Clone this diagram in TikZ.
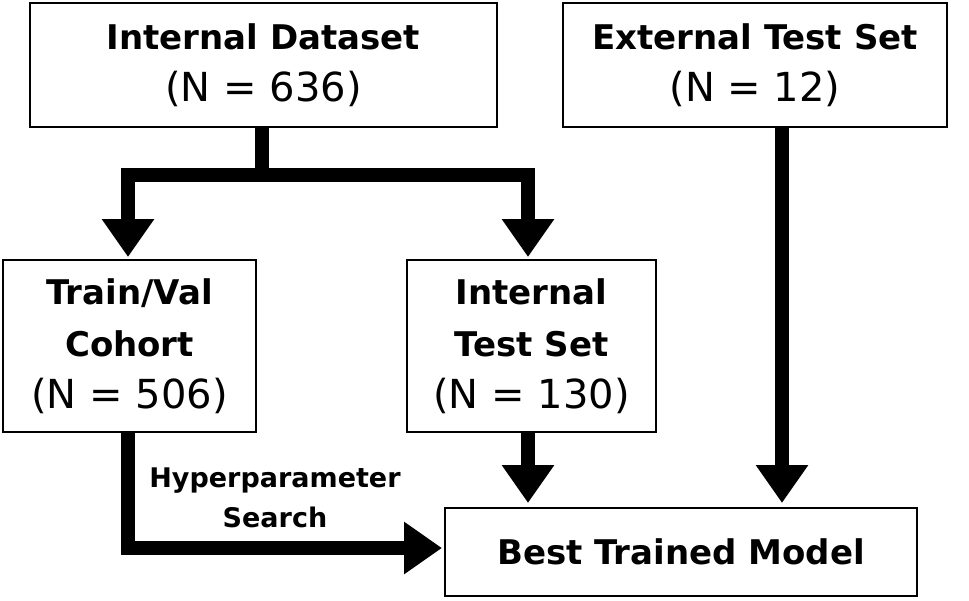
\documentclass[tikz,border=0pt]{standalone}
\usepackage{fontspec}
\setmainfont{DejaVu Sans}
\usetikzlibrary{arrows.meta}
\newcommand{\nl}[1]{{\fontsize{40}{52}\selectfont #1}}
\begin{document}
\begin{tikzpicture}[x=1pt,y=-1pt,
 box/.style={draw,line width=2.5pt,align=center,inner sep=0pt,font=\fontsize{34}{52}\selectfont},
 arr/.style={line width=14pt,-{Triangle[width=50pt,length=38pt]}},
 ln/.style={line width=14pt}]
\useasboundingbox (0,0) rectangle (969,600);
\node[box,minimum width=467pt,minimum height=124pt] (id) at (263.5,65) {\textbf{Internal Dataset}\\\nl{(N = 636)}};
\node[box,minimum width=384pt,minimum height=124pt] (ex) at (755,65) {\textbf{External Test Set}\\\nl{(N = 12)}};
\node[box,minimum width=253pt,minimum height=172pt] (tv) at (129.5,346) {\textbf{Train/Val}\\\textbf{Cohort}\\\nl{(N = 506)}};
\node[box,minimum width=249pt,minimum height=172pt] (it) at (531.5,346) {\textbf{Internal}\\\textbf{Test Set}\\\nl{(N = 130)}};
\node[box,minimum width=472pt,minimum height=88pt] (bm) at (681,552) {\textbf{Best Trained Model}};
\coordinate (j) at (262,175);
\draw[ln] (262,127) -- (j);
\draw[ln] (121,175) -- (535,175);
\draw[arr] (128,175) -- (128,257);
\draw[arr] (528,175) -- (528,257);
\draw[arr] (782,127) -- (782,503);
\draw[arr] (528,432) -- (528,503);
\draw[arr] (128,432) -- (128,548) -- (442,548);
\node[font=\bfseries\fontsize{27}{40}\selectfont,align=center] (hp) at (275,498) {Hyperparameter\\Search};
\end{tikzpicture}
\end{document}
